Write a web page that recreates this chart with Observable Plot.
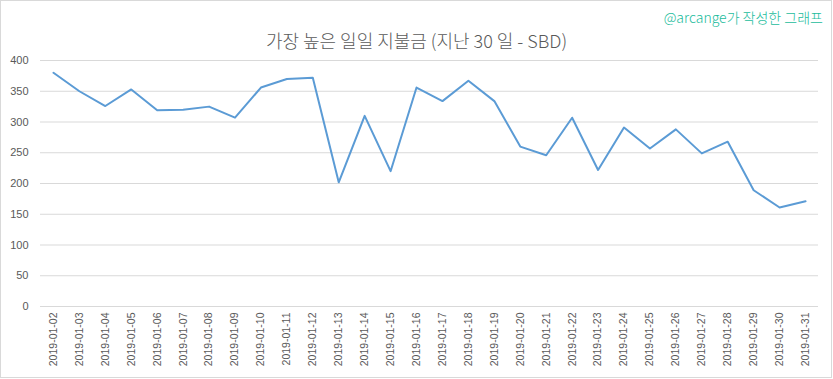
<!DOCTYPE html>
<html>
<head>
<meta charset="utf-8">
<script src="https://cdn.jsdelivr.net/npm/d3@7"></script>
<script src="https://cdn.jsdelivr.net/npm/@observablehq/plot@0.6"></script>
<style>
  body { margin: 0; background: #fff; }
  #wrap { position: relative; width: 833px; height: 379px; overflow: hidden; }
  #border { position: absolute; left: 0; top: 0; width: 830px; height: 376px; border: 1px solid #d9d9d9; pointer-events: none; }
  #title { position: absolute; left: 0; width: 833px; top: 27px; text-align: center;
    font-family: "Noto Sans CJK KR", sans-serif; font-weight: 300; font-size: 18px; color: #595959; }
  #credit { position: absolute; right: 10px; top: 7px;
    font-family: "Noto Sans CJK KR", sans-serif; font-weight: 300; font-size: 14px; color: #1abc9c; }
</style>
</head>
<body>
<div id="wrap">
  <div id="title">가장 높은 일일 지불금 (지난 30 일 - SBD)</div>
  <div id="credit">@arcange가 작성한 그래프</div>
  <div id="border"></div>
</div>
<script>
const dates = ["2019-01-02","2019-01-03","2019-01-04","2019-01-05","2019-01-06","2019-01-07","2019-01-08","2019-01-09","2019-01-10","2019-01-11","2019-01-12","2019-01-13","2019-01-14","2019-01-15","2019-01-16","2019-01-17","2019-01-18","2019-01-19","2019-01-20","2019-01-21","2019-01-22","2019-01-23","2019-01-24","2019-01-25","2019-01-26","2019-01-27","2019-01-28","2019-01-29","2019-01-30","2019-01-31"];
const payouts = [380,350,326,353,319,320,325,307,356,370,372,202,310,220,356,334,367,334,260,246,307,222,291,257,288,249,268,189,161,171];
const yTicks = [0,50,100,150,200,250,300,350,400];

const data = dates.map((d, i) => ({date: d, value: payouts[i]}));

const chart = Plot.plot({
  width: 833,
  height: 379,
  marginTop: 60,
  marginBottom: 73,
  marginLeft: 40,
  marginRight: 15,
  style: { fontFamily: "Liberation Sans, Arial, sans-serif", color: "#595959", background: "transparent" },
  x: { type: "point", domain: dates, padding: 0.5, round: false, label: null },
  y: { domain: [0, 400], label: null },
  marks: [
    Plot.ruleY(yTicks, { stroke: "#d9d9d9", strokeWidth: 1 }),
    Plot.axisY({ ticks: yTicks, tickSize: 0, tickPadding: 12, fontSize: 11, label: null }),
    Plot.axisX({ tickSize: 0, tickPadding: 6, tickRotate: -90, fontSize: 10.5, label: null }),
    Plot.line(data, { x: "date", y: "value", stroke: "#5b9bd5", strokeWidth: 2 })
  ]
});
document.getElementById("wrap").insertBefore(chart, document.getElementById("title"));
chart.style.position = "absolute";
chart.style.left = "0";
chart.style.top = "0";
</script>
</body>
</html>
